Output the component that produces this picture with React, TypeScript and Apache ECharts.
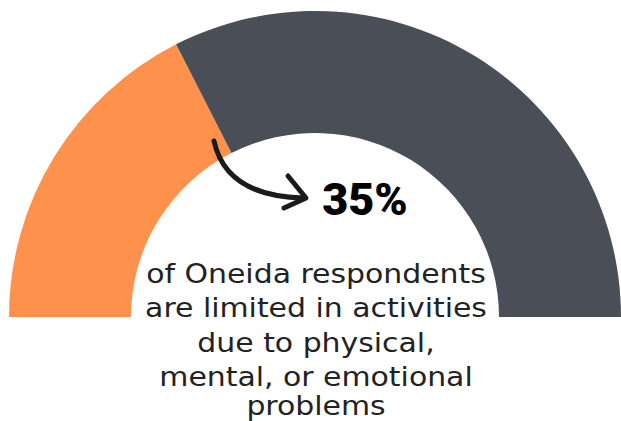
import React, { useEffect, useRef } from "react";
import * as echarts from "echarts";

const categories = ["Limited in activities", "Not limited"];
const values = [35, 65];
const colors = ["#FE914C", "#4A4F57"];
const captionLines = [
  "of Oneida respondents",
  "are limited in activities",
  "due to physical,",
  "mental, or emotional",
  "problems",
];
const captionY = [274, 308, 343, 377, 406];

export default function App() {
  const ref = useRef<HTMLDivElement>(null);
  useEffect(() => {
    if (!ref.current) return;
    const chart = echarts.init(ref.current, undefined, { renderer: "svg" });
    const total = values.reduce((a, b) => a + b, 0);
    chart.setOption({
      animation: false,
      series: [
        {
          type: "pie",
          silent: true,
          z: 1,
          center: [315, 317],
          radius: [184, 306],
          startAngle: 180,
          clockwise: true,
          label: { show: false },
          labelLine: { show: false },
          itemStyle: { borderWidth: 0 },
          data: [
            ...categories.map((name, i) => ({
              name,
              value: values[i],
              itemStyle: { color: colors[i] },
            })),
            { name: "hidden", value: total, itemStyle: { color: "rgba(0,0,0,0)" } },
          ],
        },
      ],
      graphic: [
        {
          type: "bezierCurve",
          z: 100,
          shape: { x1: 214, y1: 141, cpx1: 226, cpy1: 196, x2: 303, y2: 198 },
          style: { stroke: "#1b1b1b", lineWidth: 5, fill: "none", lineCap: "round" },
        },
        {
          type: "polyline",
          z: 100,
          shape: { points: [[288, 176], [306, 198], [284, 208]] },
          style: { stroke: "#1b1b1b", lineWidth: 5, fill: "none", lineCap: "round", lineJoin: "round" },
        },
        {
          type: "text",
          z: 100,
          x: 365,
          y: 199,
          style: {
            text: `${values[0]}%`,
            font: "900 45px Roboto",
            fill: "#000000",
            align: "center",
            verticalAlign: "middle",
          },
        },
        ...captionLines.map((line, i) => ({
          type: "text",
          z: 100,
          x: 316,
          y: captionY[i],
          scaleX: 1.15,
          style: {
            text: line,
            font: "400 26px 'DejaVu Sans'",
            fill: "#222222",
            align: "center",
            verticalAlign: "middle",
          },
        })),
      ],
    });
    return () => chart.dispose();
  }, []);
  return (
    <div
      ref={ref}
      style={{ position: "fixed", left: 0, top: 0, width: 621, height: 421, background: "#ffffff" }}
    />
  );
}
